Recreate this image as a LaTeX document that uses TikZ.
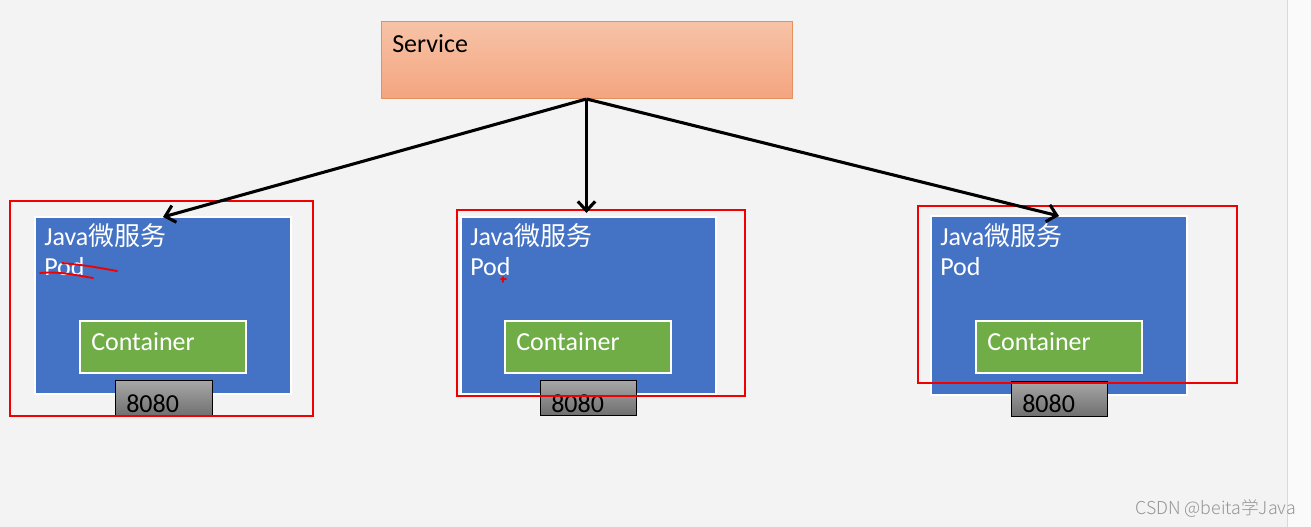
\documentclass[tikz,border=0pt]{standalone}
\usepackage{fontspec}
\setmainfont{Carlito}
\newfontfamily\cjk{Noto Sans CJK SC}
\newfontfamily\cjklight{Noto Sans CJK SC Light}
\usetikzlibrary{arrows.meta}
\definecolor{bgc}{HTML}{F3F3F3}
\definecolor{stripc}{HTML}{FAFAFA}
\definecolor{podblue}{HTML}{4472C4}
\definecolor{contgreen}{HTML}{70AD47}
\definecolor{svctop}{HTML}{F7C3A7}
\definecolor{svcbot}{HTML}{F4A47F}
\definecolor{svcline}{HTML}{E3915F}
\definecolor{porttop}{HTML}{A6A6A6}
\definecolor{portbot}{HTML}{6E6E6E}
\definecolor{redbox}{HTML}{F00000}
\definecolor{wmgray}{HTML}{959595}
\tikzset{
  box/.style={rectangle, inner sep=0pt, outer sep=0pt},
  podbox/.style={box, fill=podblue, draw=white, line width=1.5pt},
  contbox/.style={box, fill=contgreen, draw=white, line width=1.5pt},
  portbox/.style={box, top color=porttop, bottom color=portbot, draw=black, line width=0.75pt},
  redframe/.style={box, draw=redbox, line width=1.5pt},
  svcbox/.style={box, top color=svctop, bottom color=svcbot, draw=svcline, line width=0.75pt},
  wtext/.style={anchor=base west, inner sep=0pt, text=white, font=\fontsize{19.5}{22}\selectfont},
  btext/.style={anchor=base west, inner sep=0pt, text=black, font=\fontsize{19.5}{22}\selectfont},
  link/.style={line width=2.3pt, -{Straight Barb[length=7pt, width=13pt, line width=2.3pt]}},
  scribble/.style={draw=redbox, line width=1.4pt, line cap=round},
}
\begin{document}
\begin{tikzpicture}[x=0.75pt, y=-0.75pt]
\useasboundingbox (0,0) rectangle (1311,527);
\fill[bgc] (0,0) rectangle (1311,527);
\fill[stripc] (1287,0) rectangle (1311,527);
\draw[white!85!black, line width=0.5pt] (1287,0) -- (1287,527);

% service
\node[svcbox, minimum width={411*0.75pt}, minimum height={77*0.75pt}] (svc) at (586.5,60.5) {};
\node[btext] (svct) at (392,53) {Service};

% pods
\node[podbox, minimum width={256*0.75pt}, minimum height={177*0.75pt}] (pod1) at (163,305.5) {};
\node[podbox, minimum width={255*0.75pt}, minimum height={177*0.75pt}] (pod2) at (588.5,305.5) {};
\node[podbox, minimum width={256*0.75pt}, minimum height={179*0.75pt}] (pod3) at (1059,305.5) {};

\node[wtext] (j1) at (44,246) {Java{\cjk 微服务}};
\node[wtext] (d1) at (44,276) {Pod};
\node[wtext] (j2) at (470,246) {Java{\cjk 微服务}};
\node[wtext] (d2) at (470,276) {Pod};
\node[wtext] (j3) at (940,246) {Java{\cjk 微服务}};
\node[wtext] (d3) at (940,276) {Pod};

% containers
\node[contbox, minimum width={166*0.75pt}, minimum height={52*0.75pt}] (c1) at (163,347) {};
\node[contbox, minimum width={166*0.75pt}, minimum height={52*0.75pt}] (c2) at (588,347) {};
\node[contbox, minimum width={166*0.75pt}, minimum height={52*0.75pt}] (c3) at (1059,347) {};
\node[wtext] (ct1) at (91,351) {Container};
\node[wtext] (ct2) at (516,351) {Container};
\node[wtext] (ct3) at (987,351) {Container};

% ports
\node[portbox, minimum width={97*0.75pt}, minimum height={36*0.75pt}] (pt1) at (163.5,399) {};
\node[portbox, minimum width={96*0.75pt}, minimum height={35*0.75pt}] (pt2) at (588,398.5) {};
\node[portbox, minimum width={96*0.75pt}, minimum height={35*0.75pt}] (pt3) at (1059,399.5) {};
\node[btext] (pn1) at (126,412) {8080};
\node[btext] (pn2) at (551,412) {8080};
\node[btext] (pn3) at (1022,412) {8080};

% red frames
\node[redframe, minimum width={303*0.75pt}, minimum height={215*0.75pt}] (r1) at (161.5,308.5) {};
\node[redframe, minimum width={288*0.75pt}, minimum height={186*0.75pt}] (r2) at (601,303) {};
\node[redframe, minimum width={319*0.75pt}, minimum height={177*0.75pt}] (r3) at (1077.5,294.5) {};

% scribbles
\draw[scribble] (40,273) .. controls (60,271) and (80,276) .. (93,278);
\draw[scribble] (62,263) .. controls (85,265) and (100,268) .. (117,271);
\draw[scribble] (501,279) -- (506,279);
\draw[scribble] (503,277) -- (503,282);

% connectors
\draw[link] (svc.south) -- (pod1.north);
\draw[link] (svc.south) -- ([yshift=3pt]svc.south |- pod2.north);
\draw[link] (svc.south) -- (pod3.north);

% watermark
\node[anchor=base east, inner sep=0pt, text=wmgray, font=\cjklight\fontsize{13.3}{15}\selectfont] (wm) at (1296,514) {CSDN @beita学Java};
\end{tikzpicture}
\end{document}
